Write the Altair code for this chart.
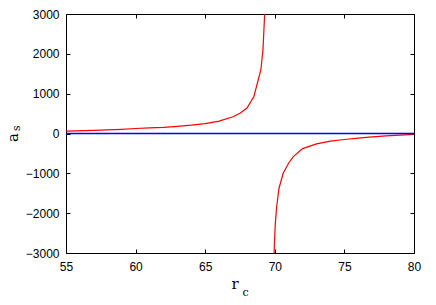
import altair as alt
import pandas as pd

# tick values
x_ticks = [55, 60, 65, 70, 75, 80]
y_ticks = [-3000, -2000, -1000, 0, 1000, 2000, 3000]

# red curve, branch below the resonance
upper_rc = [55, 57, 59, 60, 61, 62, 63, 64, 65, 66, 67, 67.5, 68, 68.5, 69, 69.15, 69.3]
upper_as = [60, 80, 105, 125, 140, 155, 180, 210, 250, 310, 420, 510, 640, 930, 1600, 2100, 3200]

# red curve, branch above the resonance
lower_rc = [69.92, 69.97, 70.03, 70.13, 70.3, 70.6, 71, 71.33, 72, 73, 74, 75, 76, 77, 78, 79, 80]
lower_as = [-3300, -2800, -2300, -1850, -1380, -1000, -740, -580, -380, -260, -190, -150, -115, -85, -60, -40, -20]

# blue zero line
zero_rc = [55, 80]
zero_as = [0, 0]

red_df = pd.DataFrame({
    "rc": upper_rc + lower_rc,
    "as": upper_as + lower_as,
    "branch": ["upper"] * len(upper_rc) + ["lower"] * len(lower_rc),
})
blue_df = pd.DataFrame({"rc": zero_rc, "as": zero_as})

W, H = 348, 239
xs = alt.Scale(domain=[55, 80], nice=False, zero=False)
ys = alt.Scale(domain=[-3000, 3000], nice=False, zero=False)


def make_axis(orient, labels, values, pad):
    return alt.Axis(
        orient=orient, values=values, labels=labels, offset=-4, tickSize=4,
        tickColor="black", tickWidth=1, domain=False, grid=False, title=None,
        labelFont="Liberation Sans", labelFontSize=12, labelColor="black",
        labelPadding=pad, labelFlush=False, format="d",
    )


red = alt.Chart(red_df).mark_line(color="#ff0000", strokeWidth=1.2, clip=True).encode(
    x=alt.X("rc:Q", scale=xs, axis=make_axis("top", False, x_ticks, 8)),
    y=alt.Y("as:Q", scale=ys, axis=make_axis("right", False, y_ticks, 7)),
    detail="branch:N",
    order=alt.Order("rc:Q"),
)

blue = alt.Chart(blue_df).mark_line(color="#0000ff", strokeWidth=1.4, clip=True).encode(
    x=alt.X("rc:Q", scale=xs, axis=make_axis("bottom", True, x_ticks, 8)),
    y=alt.Y("as:Q", scale=ys, axis=make_axis("left", True, y_ticks, 7)),
)


def label(text, x, y, size, angle=0):
    return alt.Chart(pd.DataFrame({"t": [text]})).mark_text(
        font="DejaVu Serif", fontSize=size, align="left", baseline="alphabetic",
        angle=angle, color="black",
    ).encode(text="t:N", x=alt.value(x), y=alt.value(y))


t_r = label("r", 165.5, 275, 15)
t_c = label("c", 176.5, 281.5, 11)
t_a = label("a", -48.5, 128, 15, 270)
t_s = label("s", -46.5, 117, 11, 270)

chart = alt.layer(red, blue, t_r, t_c, t_a, t_s).resolve_axis(
    x="independent", y="independent"
).properties(
    width=W, height=H,
    autosize=alt.AutoSizeParams(type="none"),
    padding={"left": 58, "top": 6, "right": 14, "bottom": 44},
).configure_view(stroke="black", strokeWidth=1)

chart.save("out.html", embed_options={"renderer": "svg", "actions": False})
